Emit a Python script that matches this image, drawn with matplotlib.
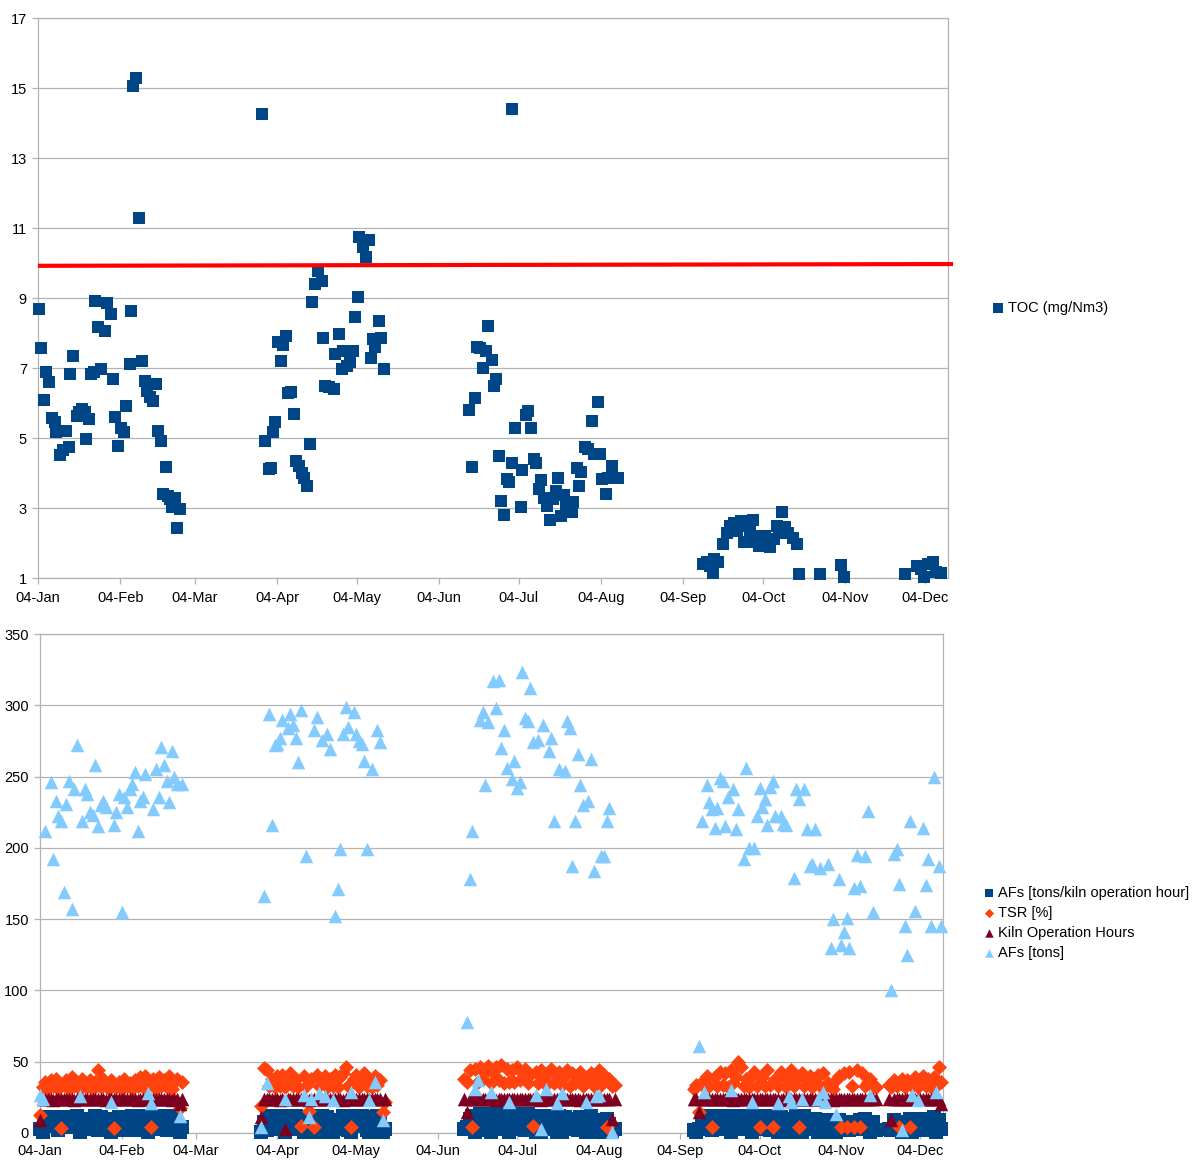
import numpy as np
import matplotlib
matplotlib.use('Agg')
import matplotlib.pyplot as plt
import matplotlib.dates as mdates

plt.rcParams['font.family'] = ['Liberation Sans', 'DejaVu Sans']
plt.rcParams['font.size'] = 10.5

nan = np.nan
base = mdates.datestr2num('2013-01-04')

# ---- TOC (top chart): day offset from 04-Jan, value in mg/Nm3
toc_day = [0.4, 1.3, 2.3, 3.1, 4.2, 5.3, 6.3, 6.9, 8.2, 9.5, 10.7, 11.7, 11.9, 13.2, 14.5,
           15.5, 16.4, 17.6, 18.2, 19.2, 20.1, 21.0, 21.4, 22.6, 23.9, 25.2, 26.0, 27.3,
           28.3, 28.9, 30.2, 31.4, 32.5, 33.3, 34.6, 35.2, 35.8, 36.9, 38.2, 39.0, 40.3,
           40.9, 42.1, 43.4, 44.4, 45.3, 46.3, 47.2, 48.2, 49.0, 49.7, 50.3, 51.6, 52.2, 53.5,
           84.3, 85.5, 86.8, 87.7, 88.4, 89.3, 90.2, 91.4, 92.2, 93.5, 94.3, 95.2, 96.2, 97.2,
           98.4, 99.4, 100.3, 101.3, 102.3, 103.1, 104.4, 105.4, 106.9, 107.3, 108.2, 109.4,
           111.3, 112.0, 113.2, 114.5, 115.0, 116.4, 117.4, 118.6, 119.5, 120.4, 121.0, 122.4,
           123.5, 124.6, 125.2, 126.2, 127.0, 128.3, 129.0, 130.2,
           162.4, 163.4, 164.4, 165.2, 166.4, 167.5, 168.6, 169.5, 170.9, 171.5, 172.6, 173.6,
           174.5, 175.6, 176.7, 177.2, 178.4, 178.6, 179.6, 181.7, 182.4, 183.7, 184.6, 185.7,
           186.7, 187.5, 188.8, 189.5, 190.5, 191.8, 192.8, 193.8, 195.1, 195.6, 196.9, 197.9,
           198.8, 200.9, 201.5, 202.9, 203.6, 204.4, 206.0, 207.1, 208.7, 209.4, 210.7, 211.7,
           212.4, 213.7, 214.5, 216.1, 217.2, 218.2,
           250.5, 252.0, 252.9, 254.0, 254.6, 256.0, 258.0, 259.4, 260.7, 262.0, 263.2, 264.5,
           265.9, 266.8, 268.2, 269.1, 270.2, 271.3, 272.2, 273.6, 274.6, 275.6, 277.0, 278.1,
           279.1, 280.0, 281.1, 282.4, 284.4, 285.7, 286.5, 294.5, 302.3, 303.3,
           326.5, 331.0, 332.5, 333.5, 335.0, 337.0, 338.0, 340.0]
toc_val = [8.69, 7.57, 6.10, 6.88, 6.59, 5.56, 5.45, 5.16, 4.52, 4.65, 5.20, 4.73, 6.83, 7.35, 5.64,
           5.75, 5.83, 5.73, 4.97, 5.54, 6.83, 6.88, 8.92, 8.16, 6.97, 8.07, 8.86, 8.54,
           6.69, 5.59, 4.78, 5.30, 5.16, 5.92, 7.11, 8.64, 15.05, 15.30, 11.30, 7.21, 6.64,
           6.35, 6.16, 6.07, 6.54, 5.20, 4.92, 3.40, 4.16, 3.35, 3.26, 3.02, 3.30, 2.42, 2.97,
           14.26, 4.92, 4.11, 4.13, 5.16, 5.45, 7.73, 7.21, 7.66, 7.92, 6.30, 6.32, 5.69, 4.35,
           4.20, 4.00, 3.87, 3.64, 4.83, 8.88, 9.40, 9.78, 9.50, 7.85, 6.50, 6.45,
           6.40, 7.40, 7.97, 6.97, 7.50, 7.07, 7.16, 7.50, 8.45, 9.02, 10.73, 10.45,
           10.16, 10.66, 7.28, 7.83, 7.59, 8.35, 7.87, 6.97,
           5.80, 4.16, 6.13, 7.61, 7.56, 6.99, 7.50, 8.19, 7.24, 6.50, 6.70, 4.50,
           3.21, 2.80, 3.83, 3.75, 14.40, 4.30, 5.29, 3.04, 4.09, 5.66, 5.78, 5.28,
           4.40, 4.28, 3.54, 3.80, 3.30, 3.07, 2.67, 3.26, 3.50, 3.86, 2.76, 3.37,
           3.07, 2.90, 3.18, 4.13, 3.62, 4.04, 4.73, 4.69, 5.50, 4.54, 6.02, 4.54,
           3.83, 3.40, 3.85, 4.20, 3.85, 3.87,
           1.40, 1.47, 1.35, 1.14, 1.54, 1.47, 1.97, 2.30, 2.50, 2.57, 2.33, 2.64,
           2.04, 2.50, 2.35, 2.67, 2.02, 1.92, 2.21, 2.19, 2.02, 1.88, 2.11, 2.50,
           2.30, 2.88, 2.45, 2.30, 2.13, 1.97, 1.11, 1.11, 1.37, 1.02,
           1.11, 1.33, 1.26, 1.02, 1.40, 1.47, 1.16, 1.14]
limit_day = [0, 344.5]
limit_toc = [9.92, 9.97]

# ---- bottom chart: daily values, five operating periods
period_start = [0, 84, 161, 248, 322]

afs_tons = [
    [27, 24, 212, nan, 246, 192, 233, 222, 219, 169, 231, 247, 157, 241, 272, 26, 219, 241, 238, 225,
     223, 258, 215, 230, 233, 229, nan, 22, 216, 225, 238, 155, 236, 229, 241, 245, 253, 212, 233, 236,
     252, 28, 21, 227, 255, 236, 271, 258, 247, 232, 268, 250, 245, 12, 245],
    [4, 166, 35, 294, 216, 272, 273, 277, 290, 24, 284, 294, 286, 277, 260, 297, 27, 194, 11, 24,
     283, 292, 28, 276, 26, 280, 269, 23, 152, 171, 199, 280, 299, 285, 29, 295, 280, 275, 273, 261,
     199, 23, 255, 36, 283, 274, 9, nan],
    [nan, 78, 178, 212, 31, 37, 290, 295, 244, 288, 29, 317, 298, 318, 270, 283, 256, 22, 248, 261,
     242, 246, 323, 291, 289, 312, 274, 27, 276, 3, 286, 31, 268, 277, 219, 21, 255, 28, 254, 289,
     284, 187, 219, 266, 244, 230, 22, 233, 262, 184, 26, 27, 194, 194, 219, 228, 1, nan],
    [nan, nan, 61, 219, 29, 244, 232, 227, 214, 228, 249, 247, 215, 236, 30, 241, 213, 227, nan, 192,
     256, 200, 22, 200, 222, 242, 229, 234, 216, 243, 247, 222, 21, 222, 217, 216, 26, 22, 179, 241,
     234, 24, 241, 213, 187, 189, 213, 24, 186, 29, 22, 189, 130, 150, 13, 178, 132, 141, 151, 130,
     nan, 172, 195, 173, nan, 194, 226, 27, 155, nan],
    [nan, 100, 196, 199, 175, 2, 145, 125, 219, 27, 156, 23, nan, 214, 174, 192, 145, 250, 29, 187, 145],
]

kiln_hours = [
    [9, 24, 24, 24, 24, 23, 24, 24, 24, 24, 24, 24, 24, 23, 24, 24, 24, 24, 24, 24,
     24, 24, 24, 24, 24, 23, 24, 24, 24, 24, 24, 24, 24, 24, 24, 24, 24, 23, 24, 24,
     24, 24, 24, 24, 24, 24, 24, 24, 24, 24, 23, 24, 24, 20, 24],
    [11, 24, 24, 24, 24, 24, 24, 23, 24, 2.5, 24, 24, 24, 24, 24, 24, 24, 24, 23, 24,
     24, 24, 24, 24, 24, 24, 24, 24, 24, 24, 24, 23, 24, 24, 24, 24, 24, 24, 24, 24,
     24, 24, 24, 24, 24, 24, 9, 24],
    [24, 15, 24, 24, 24, 24, 24, 24, 24, 24, 24, 24, 23, 24, 24, 24, 24, 24, 24, 24,
     24, 24, 24, 24, 24, 24, 24, 24, 24, 23, 24, 24, 24, 24, 24, 24, 24, 24, 24, 24,
     24, 24, 24, 24, 23, 24, 24, 24, 24, 24, 24, 24, 24, 24, 24, 24, 10, 24],
    [24, 24, 15, 24, 24, 24, 24, 24, 24, 24, 24, 24, 24, 24, 24, 23, 24, 24, 24, 24,
     24, 24, 24, 24, 24, 24, 24, 24, 24, 24, 24, 24, 24, 23, 24, 24, 24, 24, 24, 24,
     24, 24, 24, 24, 24, 24, 24, 24, 24, 24, 24, 24, 24, 23, 24, 24, 24, 24, 24, 24,
     24, 24, 24, 24, 24, 24, 24, 24, 24, 24],
    [24, 9, 24, 24, 24, 24, 24, 24, 24, 24, 24, 24, 24, 24, 24, 24, 24, 24, 24, 24, 20],
]

tsr = [
    [12.6, 32, 36, 31, 37, 33, 38, 31, 3.5, 34, 37, 31, 39, 33, 36, 31, 38, 34, 32, 37,
     31, 36, 44, 32, 38, 33, 31, 37, 3.5, 32, 36, 31, 38, 33, 35, 31, 37, 33, 39, 32,
     40, 34, 4.2, 38, 31, 39, 33, 37, 32, 40, 31, 36, 38, 17.5, 36],
    [19, 45.5, 44, 33, 38, 32, 40, 33, 41, 32, 39, 42, 33, 38, 32, 5, 40, 33, 15.7, 38,
     4.2, 41, 33, 37, 40, 32, 38, 33, 41, 32, 39, 42, 46.5, 33, 4.2, 38, 41, 32, 39, 42,
     33, 38, 32, 40, 34, 37, 15, 22],
    [38, 36, 44, 4.2, 45, 36, 46, 38, 42, 47, 35, 43, 46, 37, 48, 35, 45, 35.8, 44, 36,
     46, 37, 42, 45, 35, 41, 4.6, 43, 35, 44, 38, 34, 42, 45, 35, 41, 43, 34, 40, 44,
     33, 42, 35, 41, 43, 33, 37, 40, 42, 33, 39, 44, 34, 41, 4.2, 38, 33, 34],
    [31, 34, 15, 36, 32, 40, 33, 4.2, 39, 33, 43, 34, 42, 32, 44, 35, 39, 50, 46, 33,
     38, 32, 40, 43, 33, 4.2, 39, 33, 44, 34, 4.2, 38, 33, 43, 40, 32, 39, 44, 33, 38,
     4.2, 42, 33, 37, 40, 32, 38, 41, 33, 42, 32, 35, 33, 31, 37, 40, 4.2, 42, 4.2, 43,
     33, 4.2, 44, 4.2, 42, 33, 36, 38, 32, 32],
    [34, 32, 37, 33, 4.2, 38, 32, 37, 4.2, 33, 39, 32, 37, 40, 33, 38, 32, 39, 33, 46.5, 36],
]

afs_per_hour = [
    [3, 1, 10, 11, 5, 9, 11, 2, 6, 8, 11, 4, 7, 11, 12, 1, 10, 6, 3, 10,
     5, 12, 2, 11, 6, 3, 10, 1, 10, 5, 11, 7, 2, 11, 6, 12, 2, 10, 5, 11,
     12, 1, 4, 11, 6, 3, 12, 7, 2, 5, 12, 11, 2, 1, 4],
    [1, 8, 2, 12, 6, 3, 11, 12, 5, 1, 12, 6, 3, 12, 11, 5, 1, 9, 1, 2,
     12, 6, 1, 12, 3, 11, 6, 1, 7, 3, 9, 12, 6, 2, 1, 12, 11, 5, 12, 6,
     2, 1, 11, 2, 12, 6, 1, 3],
    [3, 4, 10, 12, 1, 2, 13, 6, 2, 13, 1, 13, 7, 3, 13, 12, 6, 1, 12, 13,
     3, 12, 6, 2, 13, 12, 5, 1, 12, 1, 12, 5, 12, 11, 3, 1, 12, 1, 11, 6,
     3, 9, 10, 2, 11, 6, 1, 11, 12, 5, 1, 1, 9, 3, 10, 6, 1, 3],
    [2, 1, 3, 11, 5, 12, 11, 2, 10, 6, 12, 11, 3, 6, 1, 12, 10, 5, 3, 9,
     12, 6, 1, 10, 3, 12, 5, 11, 10, 2, 12, 6, 1, 11, 10, 3, 5, 1, 9, 12,
     6, 1, 12, 3, 9, 5, 10, 1, 9, 5, 1, 9, 3, 8, 1, 9, 5, 2, 8, 2,
     7, 5, 3, 9, 3, 10, 6, 1, 8, 2],
    [3, 2, 9, 5, 2, 1, 8, 3, 10, 1, 8, 5, 3, 10, 2, 9, 5, 11, 1, 9, 3],
]

C_BLUE, C_ORANGE, C_RED, C_LIGHT = '#004586', '#ff420e', '#7e0021', '#83caff'
GRID = '#b3b3b3'


def days_of(series):
    return np.concatenate([base + s + np.arange(len(v)) for s, v in zip(period_start, series)])


def flat(series):
    return np.concatenate([np.array(v, dtype=float) for v in series])


def style(ax, ymin, ymax, step):
    ax.set_xlim(base, base + 342.6)
    ax.set_ylim(ymin, ymax)
    ax.set_yticks(np.arange(ymin, ymax + 0.1, step))
    ax.yaxis.grid(True, color=GRID, linewidth=0.9)
    ax.set_axisbelow(True)
    ax.xaxis.set_major_locator(mdates.MonthLocator(bymonthday=4))
    ax.xaxis.set_major_formatter(mdates.DateFormatter('%d-%b'))
    for sp in ax.spines.values():
        sp.set_color(GRID)
        sp.set_linewidth(0.9)
    ax.tick_params(length=4, width=0.9, color=GRID, labelsize=10.5)
    ax.tick_params(axis='x', pad=5)
    ax.tick_params(axis='y', pad=4)


fig = plt.figure(figsize=(11.92, 11.6), dpi=100)
ax1 = fig.add_axes([38 / 1192, 1 - 578 / 1160, 910 / 1192, 560 / 1160])
ax2 = fig.add_axes([40 / 1192, 27 / 1160, 903 / 1192, 499 / 1160])

# top chart
style(ax1, 1, 17, 2)
toc = ax1.scatter(base + np.array(toc_day), toc_val, marker='s', s=85, color=C_BLUE,
                  linewidths=0, zorder=3, clip_on=False, label='TOC (mg/Nm3)')
ax1.plot(base + np.array(limit_day), limit_toc, color='#ff0000', linewidth=3, zorder=4,
         clip_on=False, solid_capstyle='butt')
fig.legend(handles=[toc], loc='center left', bbox_to_anchor=(992 / 1192, 1 - 308 / 1160),
           frameon=False, borderpad=0, borderaxespad=0, handlelength=0.8, handletextpad=0.3,
           markerscale=0.75, fontsize=10.5)

# bottom chart
style(ax2, 0, 350, 50)
# pin the date labels to one baseline so labels with descenders sit level
for lab in ax2.get_xticklabels():
    lab.set_verticalalignment('baseline')
ax2.tick_params(axis='x', pad=11.5)
x = days_of(afs_tons)
h1 = ax2.scatter(x, flat(afs_per_hour), marker='s', s=95, color=C_BLUE, linewidths=0,
                 zorder=3, clip_on=False, label='AFs [tons/kiln operation hour]')
h2 = ax2.scatter(x, flat(tsr), marker='D', s=58, color=C_ORANGE, linewidths=0,
                 zorder=4, clip_on=False, label='TSR [%]')
h3 = ax2.scatter(x, flat(kiln_hours), marker='^', s=95, color=C_RED, linewidths=0,
                 zorder=5, clip_on=False, label='Kiln Operation Hours')
h4 = ax2.scatter(x, flat(afs_tons), marker='^', s=95, color=C_LIGHT, linewidths=0,
                 zorder=6, clip_on=False, label='AFs [tons]')
fig.legend(handles=[h1, h2, h3, h4], loc='center left',
           bbox_to_anchor=(983 / 1192, 1 - 923 / 1160), frameon=False, borderpad=0,
           borderaxespad=0, handlelength=0.8, handletextpad=0.2, labelspacing=0.42,
           markerscale=0.62, fontsize=10.5)

fig.savefig('out.png', dpi=100, facecolor='white')
